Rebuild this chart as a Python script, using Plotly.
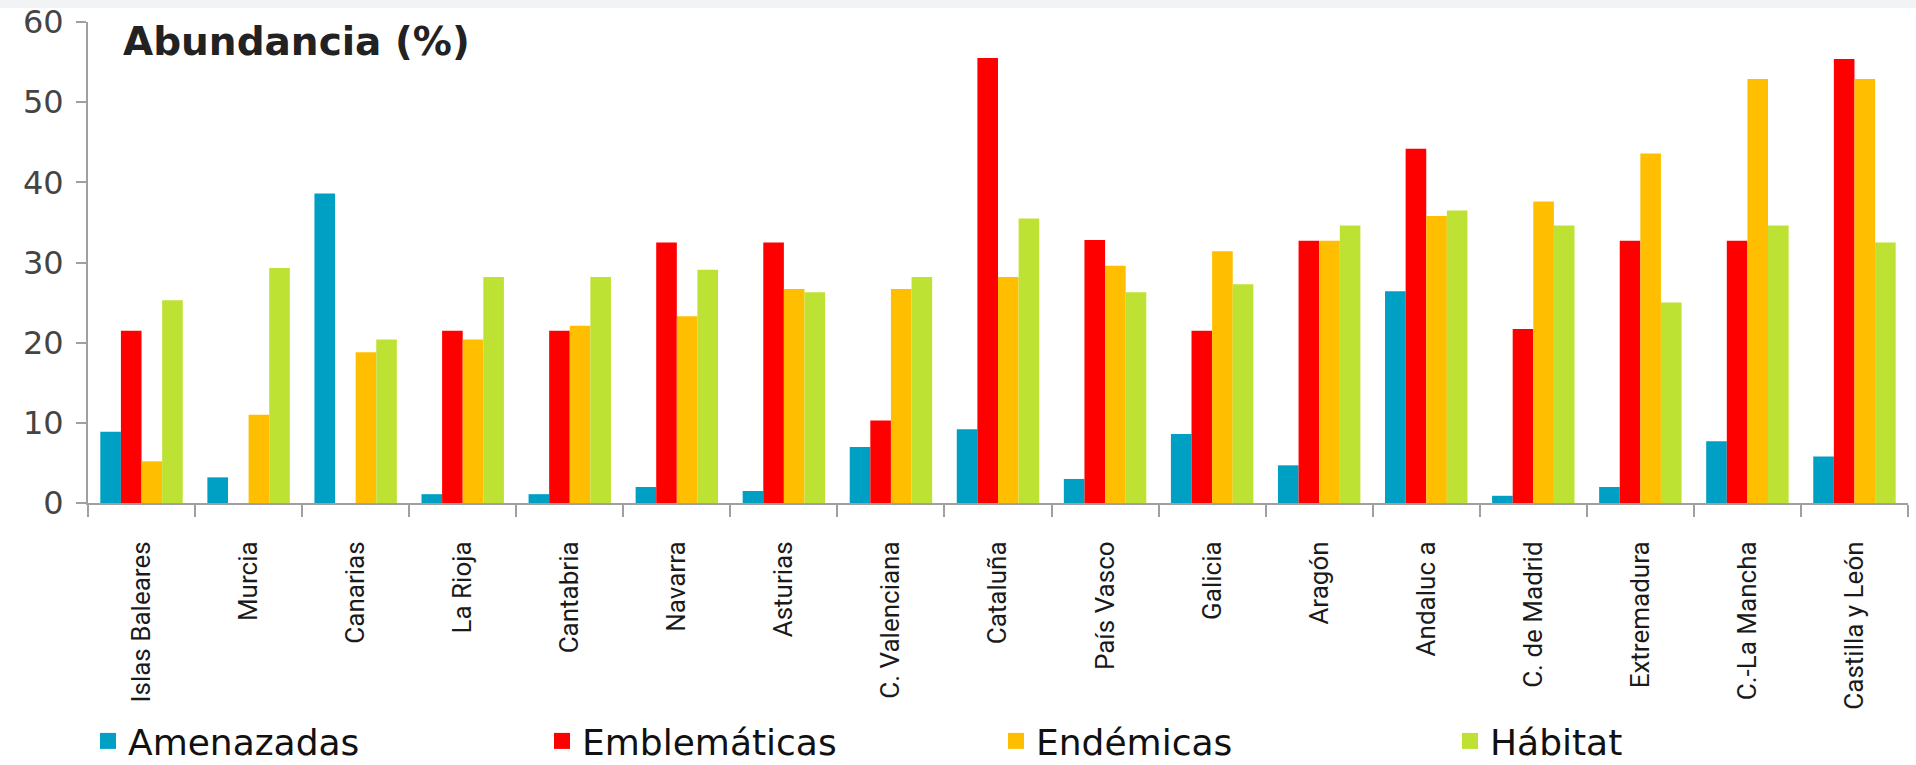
import plotly.graph_objects as go

categories = ["Islas Baleares", "Murcia", "Canarias", "La Rioja", "Cantabria", "Navarra",
              "Asturias", "C. Valenciana", "Cataluña", "País Vasco", "Galicia", "Aragón",
              "Andaluc a", "C. de Madrid", "Extremadura", "C.-La Mancha", "Castilla y León"]

amenazadas = [8.9, 3.2, 38.6, 1.1, 1.1, 2.0, 1.5, 7.0, 9.2, 3.0, 8.6, 4.7, 26.4, 0.9, 2.0, 7.7, 5.8]
emblematicas = [21.5, None, None, 21.5, 21.5, 32.5, 32.5, 10.3, 55.5, 32.8, 21.5, 32.7, 44.2, 21.7, 32.7, 32.7, 55.4]
endemicas = [5.2, 11.0, 18.8, 20.4, 22.1, 23.3, 26.7, 26.7, 28.2, 29.6, 31.4, 32.7, 35.8, 37.6, 43.6, 52.9, 52.9]
habitat = [25.3, 29.3, 20.4, 28.2, 28.2, 29.1, 26.3, 28.2, 35.5, 26.3, 27.3, 34.6, 36.5, 34.6, 25.0, 34.6, 32.5]

series_names = ["Amenazadas", "Emblemáticas", "Endémicas", "Hábitat"]
series_values = [amenazadas, emblematicas, endemicas, habitat]
colors = ["#00a0c4", "#ff0000", "#ffbf00", "#bee234"]

y_ticks = [0, 10, 20, 30, 40, 50, 60]

W, H = 1916, 765
L, R, T, B = 88, 8, 22, 262
pw, ph = W - L - R, H - T - B

fig = go.Figure()
for name, vals, col in zip(series_names, series_values, colors):
    fig.add_trace(go.Bar(x=categories, y=vals, name=name, marker=dict(color=col, line=dict(width=0)),
                         showlegend=False, legendgroup=name))
for name, col in zip(series_names, colors):
    fig.add_trace(go.Scatter(x=[None], y=[None], mode="markers", name=name, legendgroup=name,
                             marker=dict(symbol="square", size=16, color=col)))

fig.update_layout(
    width=W, height=H,
    margin=dict(l=L, r=R, t=T, b=B, pad=0, autoexpand=False),
    paper_bgcolor="white", plot_bgcolor="white",
    barmode="group", bargap=0.23, bargroupgap=0,
    showlegend=True,
    legend=dict(orientation="h", x=0, xanchor="left", y=-(741 - (H - B)) / ph, yanchor="middle",
                font=dict(family="DejaVu Sans", size=36, color="#111111"),
                entrywidth=409, entrywidthmode="pixels", itemwidth=30,
                bgcolor="rgba(0,0,0,0)", borderwidth=0),
    annotations=[dict(text="Abundancia (%)", xref="paper", yref="paper",
                      x=(121 - L) / pw, y=1 - (41 - T) / ph, xanchor="left", yanchor="middle",
                      showarrow=False,
                      font=dict(family="DejaVu Sans", size=39, color="#222222", weight="bold"))],
    shapes=[dict(type="rect", xref="paper", yref="paper", x0=-L / pw, x1=1 + R / pw,
                 y0=1 + (T - 8) / ph, y1=1 + T / ph, fillcolor="#f2f3f5", line=dict(width=0), layer="below")],
)

fig.update_xaxes(
    type="category", showgrid=False, zeroline=False,
    showline=True, linecolor="#a0a0a0", linewidth=2,
    ticks="outside", tickson="boundaries", ticklen=12, tickcolor="#a0a0a0", tickwidth=2,
    tickangle=-90, ticklabelstandoff=26,
    tickfont=dict(family="Roboto, sans-serif", size=26, color="#1a1a1a"),
    automargin=False,
)
fig.update_yaxes(
    range=[0, 60], tickvals=y_ticks, ticktext=[str(v) for v in y_ticks],
    showgrid=False, zeroline=False,
    showline=True, linecolor="#a0a0a0", linewidth=2,
    ticks="outside", ticklen=10, tickcolor="#a0a0a0", tickwidth=2, ticklabelstandoff=6,
    tickfont=dict(family="DejaVu Sans", size=32, color="#444444"),
    automargin=False,
)

fig.write_html("out.html")
